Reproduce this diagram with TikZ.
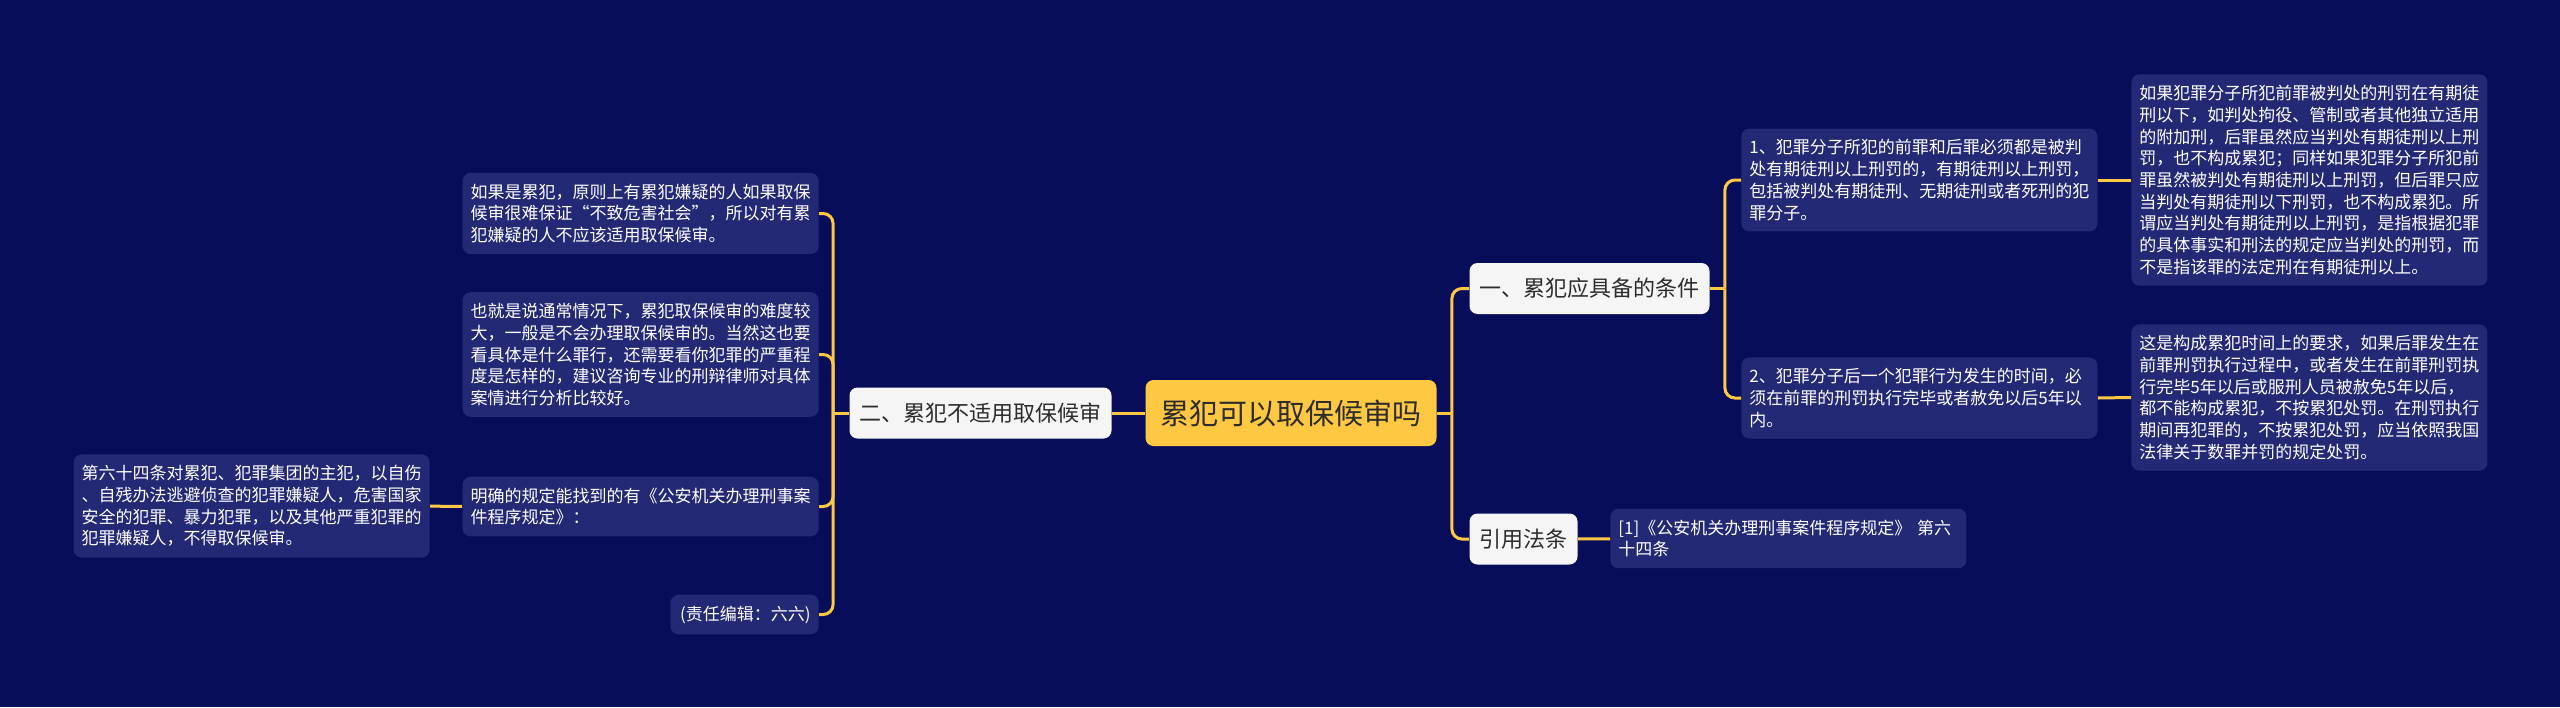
\documentclass[tikz,border=0pt]{standalone}
\usepackage{fontspec}
\newfontfamily\cjk{Noto Sans CJK SC}
\definecolor{navy}{RGB}{7,13,89}
\definecolor{leafbg}{RGB}{35,41,117}
\definecolor{gold}{RGB}{255,200,67}
\definecolor{topicbg}{RGB}{245,245,245}
\definecolor{ink}{RGB}{45,45,45}
\tikzset{every node/.style={font=\cjk},line cap=round,line join=round,
  rootbox/.style={fill=gold,rounded corners=4pt,text=ink,font=\cjk\fontsize{14.5pt}{17pt}\selectfont,inner xsep=7.5pt,minimum height=33pt},
  topic/.style={fill=topicbg,rounded corners=4pt,text=ink,font=\cjk\fontsize{11pt}{13pt}\selectfont,inner xsep=5pt,minimum height=25.5pt},
  leaf/.style={fill=leafbg,rounded corners=4pt,text=white,font=\cjk\fontsize{8.5pt}{10.85pt}\selectfont,inner xsep=4pt,inner ysep=5.5pt,text width=170pt,align=left},
  link/.style={draw=gold,line width=1.5pt},
  elbow/.style={link,rounded corners=5pt}}

\begin{document}
\begin{tikzpicture}[x=0.5pt,y=-0.5pt]
  \fill[navy] (0,0) rectangle (2560,707);
  \path[use as bounding box] (0,0) rectangle (2560,707);
  % centre and main topics
  \node[rootbox] (root) at (1291,413) {累犯可以取保候审吗};
  \node[topic] (two) at (980.5,413) {二、累犯不适用取保候审};
  \node[topic] (one) at (1589.5,288.5) {一、累犯应具备的条件};
  \node[topic] (cite) at (1523.5,539) {引用法条};
  % right side
  \node[leaf,anchor=west] (c1) at (1741,180) {1、犯罪分子所犯的前罪和后罪必须都是被判\\处有期徒刑以上刑罚的，有期徒刑以上刑罚，\\包括被判处有期徒刑、无期徒刑或者死刑的犯\\罪分子。};
  \node[leaf,anchor=west] (c2) at (1741,398) {2、犯罪分子后一个犯罪行为发生的时间，必\\须在前罪的刑罚执行完毕或者赦免以后5年以\\内。};
  \node[leaf,anchor=west] (d1) at (2131,180) {如果犯罪分子所犯前罪被判处的刑罚在有期徒\\刑以下，如判处拘役、管制或者其他独立适用\\的附加刑，后罪虽然应当判处有期徒刑以上刑\\罚，也不构成累犯；同样如果犯罪分子所犯前\\罪虽然被判处有期徒刑以上刑罚，但后罪只应\\当判处有期徒刑以下刑罚，也不构成累犯。所\\谓应当判处有期徒刑以上刑罚，是指根据犯罪\\的具体事实和刑法的规定应当判处的刑罚，而\\不是指该罪的法定刑在有期徒刑以上。};
  \node[leaf,anchor=west] (d2) at (2131,397.5) {这是构成累犯时间上的要求，如果后罪发生在\\前罪刑罚执行过程中，或者发生在前罪刑罚执\\行完毕5年以后或服刑人员被赦免5年以后，\\都不能构成累犯，不按累犯处罚。在刑罚执行\\期间再犯罪的，不按累犯处罚，应当依照我国\\法律关于数罪并罚的规定处罚。};
  \node[leaf,anchor=west] (ref) at (1610,538.5) {[1]《公安机关办理刑事案件程序规定》 第六\\十四条};
  % left side
  \node[leaf,anchor=east] (l1) at (819,213.5) {如果是累犯，原则上有累犯嫌疑的人如果取保\\候审很难保证“不致危害社会”，所以对有累\\犯嫌疑的人不应该适用取保候审。};
  \node[leaf,anchor=east] (l2) at (819,354.5) {也就是说通常情况下，累犯取保候审的难度较\\大，一般是不会办理取保候审的。当然这也要\\看具体是什么罪行，还需要看你犯罪的严重程\\度是怎样的，建议咨询专业的刑辩律师对具体\\案情进行分析比较好。};
  \node[leaf,anchor=east] (l3) at (819,506.5) {明确的规定能找到的有《公安机关办理刑事案\\件程序规定》：};
  \node[leaf,anchor=east,text width=66pt,align=right] (l4) at (819,614.5) {(责任编辑：六六)};
  \node[leaf,anchor=east] (m1) at (430,506) {第六十四条对累犯、犯罪集团的主犯，以自伤\\、自残办法逃避侦查的犯罪嫌疑人，危害国家\\安全的犯罪、暴力犯罪，以及其他严重犯罪的\\犯罪嫌疑人，不得取保候审。};
  % connectors
  \draw[link] (two) -- (root);
  \draw[link] (root.east) -- ++(15,0) coordinate (rj);
  \draw[elbow] (rj) |- (one.west);
  \draw[elbow] (rj) |- (cite.west);
  \draw[link] (two.west) -- ++(-16,0) coordinate (lj);
  \foreach \n in {l1,l2,l3,l4} \draw[elbow] (lj) |- (\n.east);
  \draw[link] (one.east) -- ++(15,0) coordinate (oj);
  \foreach \n in {c1,c2} \draw[elbow] (oj) |- (\n.west);
  \draw[link] (c1.east) -- (d1.west);
  \draw[link] (c2.east) -- (d2.west);
  \draw[link] (cite) -- (ref);
  \draw[link] (l3) -- (m1);
\end{tikzpicture}
\end{document}
